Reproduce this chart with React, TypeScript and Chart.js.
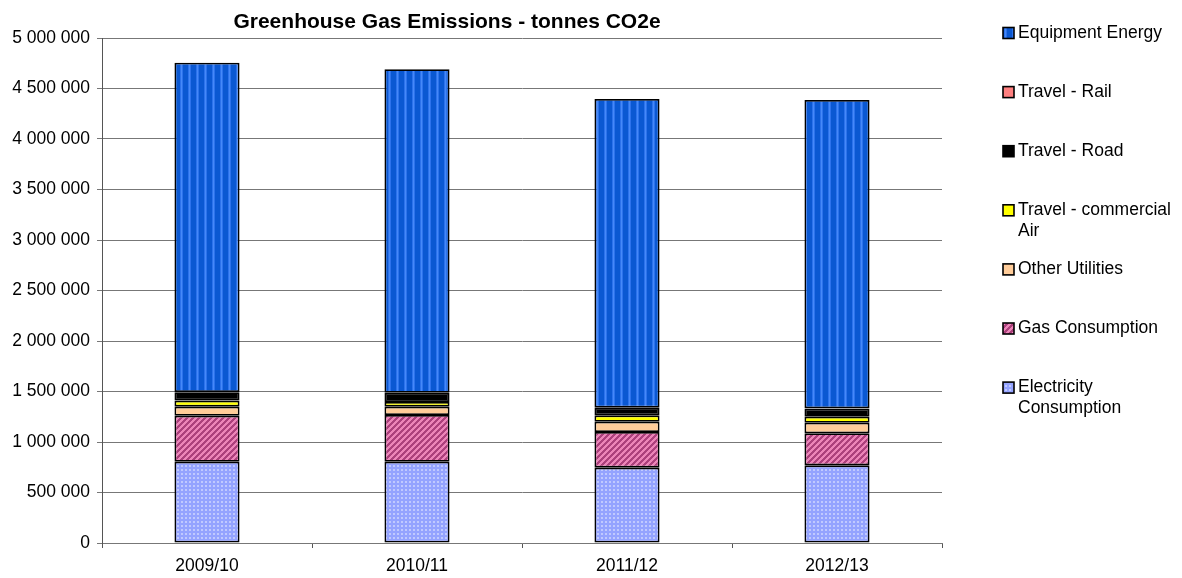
import React, { useEffect, useRef } from 'react';
import { Chart, registerables } from 'chart.js';

Chart.register(...registerables);

// ---- Data (tonnes CO2e) ----
const categories = ['2009/10', '2010/11', '2011/12', '2012/13'];
const electricityConsumption = [805000, 805000, 746000, 769000];
const gasConsumption = [455000, 462000, 353000, 317000];
const otherUtilities = [90000, 83000, 102000, 105000];
const travelCommercialAir = [60000, 46000, 63000, 59000];
const travelRoad = [82000, 89000, 73000, 80000];
const travelRail = [3000, 3000, 3000, 3000];
const equipmentEnergy = [3260000, 3202000, 3056000, 3053000];

const seriesNames = [
  'Electricity Consumption',
  'Gas Consumption',
  'Other Utilities',
  'Travel - commercial Air',
  'Travel - Road',
  'Travel - Rail',
  'Equipment Energy',
];
const yMax = 5000000;
const yStep = 500000;
const chartTitle = 'Greenhouse Gas Emissions - tonnes CO2e';

const FONT = '"Liberation Sans", Arial, Helvetica, sans-serif';

function makePattern(w: number, h: number, draw: (ctx: CanvasRenderingContext2D) => void) {
  const c = document.createElement('canvas');
  c.width = w;
  c.height = h;
  const ctx = c.getContext('2d') as CanvasRenderingContext2D;
  draw(ctx);
  return ctx.createPattern(c, 'repeat') as CanvasPattern;
}

function fmt(v: number) {
  return String(v).replace(/\B(?=(\d{3})+(?!\d))/g, ' ');
}

function wrapText(ctx: CanvasRenderingContext2D, text: string, maxW: number) {
  const words = text.split(' ');
  const lines: string[] = [];
  let cur = '';
  for (const w of words) {
    const test = cur ? cur + ' ' + w : w;
    if (ctx.measureText(test).width > maxW && cur) {
      lines.push(cur);
      cur = w;
    } else {
      cur = test;
    }
  }
  if (cur) lines.push(cur);
  return lines;
}

export default function App() {
  const canvasRef = useRef<HTMLCanvasElement | null>(null);

  useEffect(() => {
    const canvas = canvasRef.current;
    if (!canvas) return;

    const equipPattern = makePattern(8, 1, (ctx) => {
      ctx.fillStyle = '#0A58D2';
      ctx.fillRect(0, 0, 8, 1);
      ctx.fillStyle = '#2C72EC';
      ctx.fillRect(4, 0, 1, 1);
      ctx.fillRect(6, 0, 1, 1);
      ctx.fillStyle = '#4589F8';
      ctx.fillRect(5, 0, 1, 1);
    });
    const gasPattern = makePattern(6, 6, (ctx) => {
      for (let x = 0; x < 6; x++) {
        for (let y = 0; y < 6; y++) {
          ctx.fillStyle = (x + y) % 6 < 3 ? '#EC84B8' : '#AC407C';
          ctx.fillRect(x, y, 1, 1);
        }
      }
    });
    const elecPattern = makePattern(4, 4, (ctx) => {
      ctx.fillStyle = '#94A3FF';
      ctx.fillRect(0, 0, 4, 4);
      ctx.fillStyle = '#C0C9FF';
      ctx.fillRect(1, 1, 2, 2);
    });

    const seriesData = [
      electricityConsumption,
      gasConsumption,
      otherUtilities,
      travelCommercialAir,
      travelRoad,
      travelRail,
      equipmentEnergy,
    ];
    const fills: (string | CanvasPattern)[] = [
      elecPattern,
      gasPattern,
      '#FFCC99',
      '#FFFF00',
      '#000000',
      '#FF8080',
      equipPattern,
    ];

    const decor = {
      id: 'excelDecor',
      afterDraw(chart: any) {
        const ctx: CanvasRenderingContext2D = chart.ctx;
        ctx.save();
        // Title
        ctx.fillStyle = '#000';
        ctx.font = `bold 21px ${FONT}`;
        ctx.textAlign = 'center';
        ctx.textBaseline = 'alphabetic';
        ctx.fillText(chartTitle, 447, 28);

        // Legend (reverse order, top = last dataset)
        ctx.font = `17.5px ${FONT}`;
        ctx.textAlign = 'left';
        ctx.textBaseline = 'middle';
        const ds = chart.data.datasets;
        let k = 0;
        for (let i = ds.length - 1; i >= 0; i--) {
          const cy = 33 + k * 59.1;
          ctx.fillStyle = ds[i].backgroundColor;
          ctx.fillRect(1003, cy - 5.5, 11, 11);
          ctx.strokeStyle = '#000';
          ctx.lineWidth = 1.6;
          ctx.strokeRect(1003, cy - 5.5, 11, 11);
          ctx.fillStyle = '#000';
          const lines = wrapText(ctx, ds[i].label, 160);
          lines.forEach((ln, j) => ctx.fillText(ln, 1018, cy + j * 21));
          k++;
        }
        ctx.restore();
      },
    };

    const chart = new Chart(canvas, {
      type: 'bar',
      data: {
        labels: categories,
        datasets: seriesData.map((d, i) => ({
          label: seriesNames[i],
          data: d,
          backgroundColor: fills[i] as any,
          borderColor: '#000000',
          borderWidth: 1.8,
          borderSkipped: false,
          barPercentage: 0.31,
          categoryPercentage: 1,
          stack: 'total',
        })),
      },
      options: {
        responsive: false,
        animation: false,
        layout: { padding: { left: 0, right: 240, top: 38, bottom: 0 } },
        plugins: {
          legend: { display: false },
          title: { display: false },
          tooltip: { enabled: false },
        },
        scales: {
          x: {
            stacked: true,
            grid: {
              display: true,
              drawOnChartArea: false,
              drawTicks: true,
              tickLength: 5,
              color: '#555',
              offset: true,
            },
            border: { display: true, color: '#777', width: 1 },
            ticks: {
              color: '#000',
              font: { family: FONT, size: 17.5 },
              padding: 8,
              maxRotation: 0,
            },
            afterFit: (s: any) => {
              s.height = 35;
            },
          },
          y: {
            stacked: true,
            min: 0,
            max: yMax,
            ticks: {
              stepSize: yStep,
              color: '#000',
              font: { family: FONT, size: 17.5 },
              padding: 7,
              callback: (v: any) => fmt(Number(v)),
            },
            grid: { color: '#777', tickLength: 5, drawTicks: true },
            border: { display: true, color: '#555', width: 1 },
            afterFit: (s: any) => {
              s.width = 102;
            },
          },
        },
      },
      plugins: [decor],
    });

    return () => chart.destroy();
  }, []);

  return (
    <div
      style={{
        position: 'fixed',
        left: 0,
        top: 0,
        width: 1182,
        height: 578,
        background: '#ffffff',
      }}
    >
      <canvas ref={canvasRef} width={1182} height={578} />
    </div>
  );
}
